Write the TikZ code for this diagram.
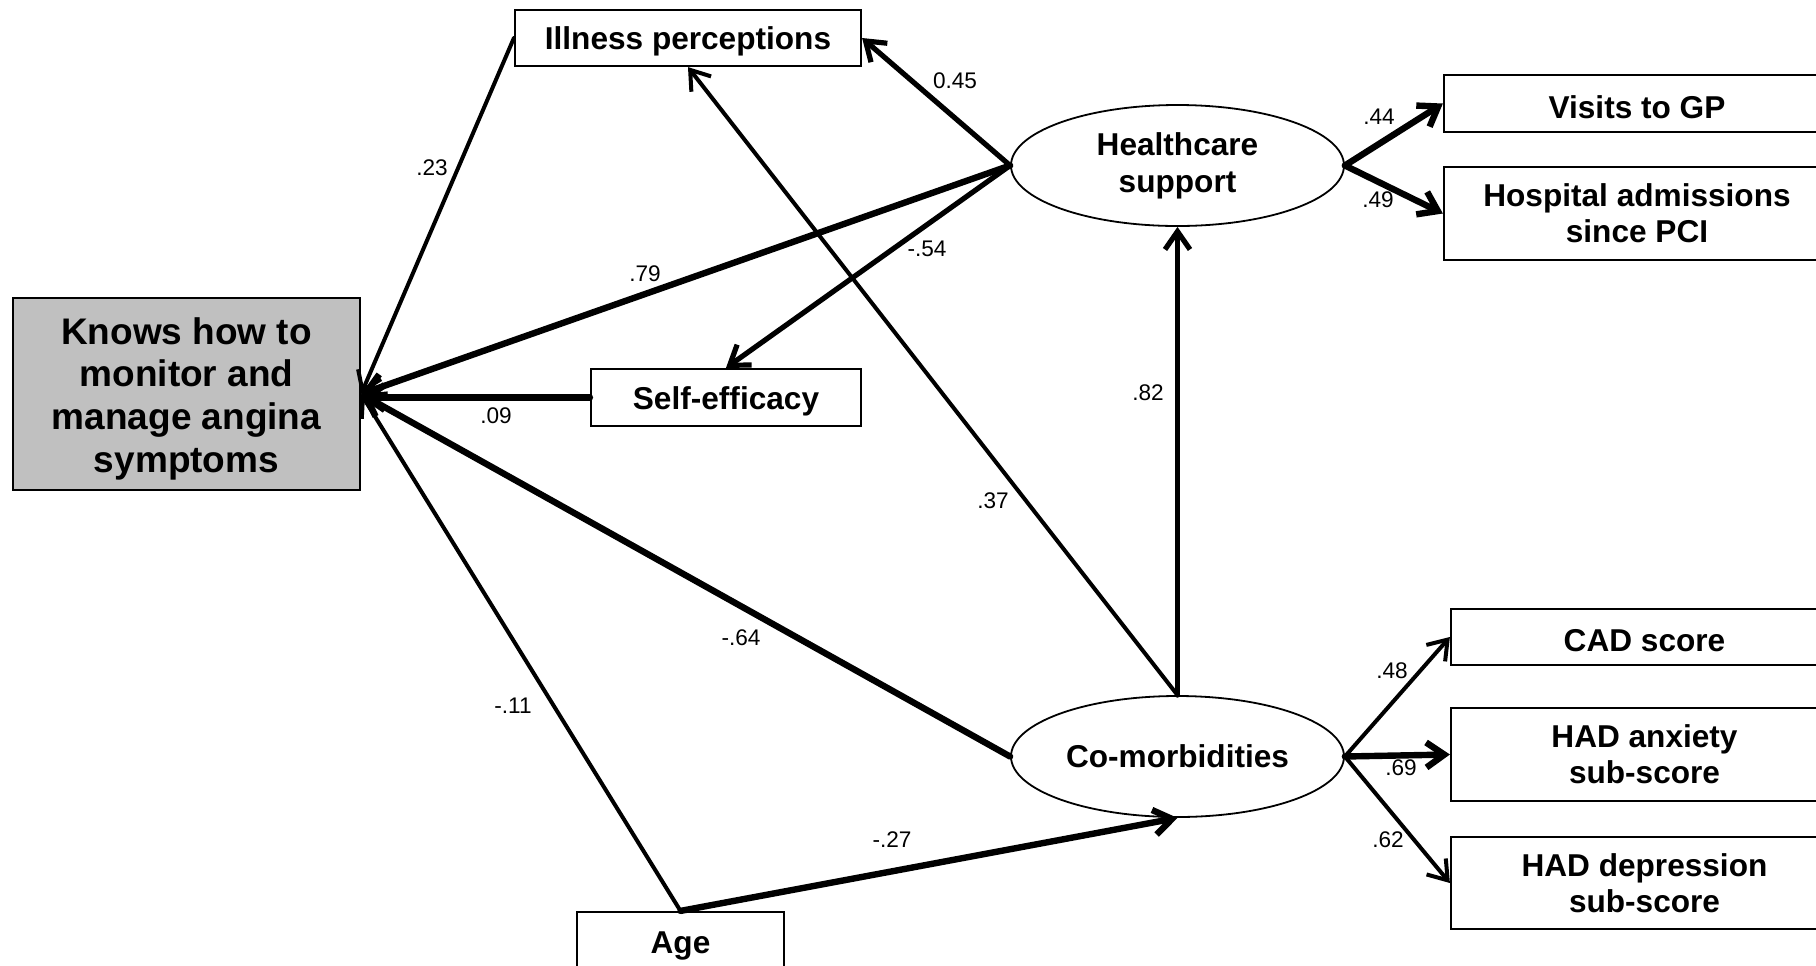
\documentclass[tikz,border=0pt]{standalone}
\usepackage{fontspec}
\setmainfont{Liberation Sans}
\usetikzlibrary{shapes.geometric,arrows.meta}
\definecolor{boxgray}{HTML}{C0C0C0}
\begin{document}
\begin{tikzpicture}[x=0.5pt,y=-0.5pt,
  varbox/.style={draw,line width=1.1pt,inner sep=0pt,align=center,
    font=\fontsize{15.8}{18}\selectfont\bfseries,
    execute at begin node={\rule{0pt}{0.95em}}},
  latent/.style={draw,ellipse,line width=0.9pt,inner sep=0pt,align=center,
    minimum width=166.5pt,minimum height=60.5pt,
    font=\fontsize{15.8}{18.5}\selectfont\bfseries},
  coef/.style={inner sep=0pt,font=\fontsize{11.3}{13}\selectfont},
  path/.style={-{Straight Barb[length=9pt,width=12.5pt]},line cap=round},
  thinp/.style={path,line width=2.0pt},
  midp/.style={path,line width=2.6pt},
  thickp/.style={path,line width=3.2pt}]
\useasboundingbox (0,0) rectangle (1816,965);

% observed variables
\node[varbox,minimum width=173pt,minimum height=28pt] (ill) at (688,38) {Illness perceptions};
\node[varbox,fill=boxgray,minimum width=173.5pt,minimum height=96pt,
  font=\fontsize{18.5}{21.3}\selectfont\bfseries] (knows) at (186.5,394)
  {\rule{0pt}{18pt}Knows how to\\monitor and\\manage angina\\symptoms};
\node[varbox,minimum width=135pt,minimum height=28.5pt] (self) at (726,397.5) {Self-efficacy};
\node[varbox,minimum width=103.5pt,minimum height=30pt] (age) at (680.5,942) {Age};

% latent variables
\node[latent] (hc) at (1177.5,165.5) {Healthcare\\support};
\node[latent] (cm) at (1177.5,756.5) {Co-morbidities};

% indicators
\node[varbox,minimum width=193pt,minimum height=28.5pt] (visits) at (1637,103.5) {Visits to GP};
\node[varbox,minimum width=193pt,minimum height=46.5pt] (hosp) at (1637,213.5) {Hospital admissions\\since PCI};
\node[varbox,minimum width=193.5pt,minimum height=28pt] (cad) at (1644.5,637) {CAD score};
\node[varbox,minimum width=193.5pt,minimum height=46.5pt] (anx) at (1644.5,754.5) {HAD anxiety\\sub-score};
\node[varbox,minimum width=193.5pt,minimum height=46pt] (dep) at (1644.5,883) {HAD depression\\sub-score};

% structural paths
\draw[thinp] (ill.west) -- (knows.east);
\draw[midp] (hc.west) -- (ill.east);
\draw[thickp] (hc.west) -- (knows.east);
\draw[midp] (hc.west) -- (self.north);
\draw[thickp] (self.west) -- (self.west -| knows.east);
\draw[thinp] (cm.north) -- (ill.south);
\draw[midp] (cm.north) -- (hc.south);
\draw[thickp] (cm.west) -- (knows.east);
\draw[thinp] (age.north) -- (knows.east);
\draw[thickp] (age.north) -- (cm.south);

% measurement paths
\draw[thickp] (hc.east) -- (visits.west);
\draw[thickp] (hc.east) -- (hosp.west);
\draw[thinp] (cm.east) -- (cad.west);
\draw[thickp] (cm.east) -- (anx.west);
\draw[thinp] (cm.east) -- (dep.west);

% coefficients
\node[coef] (c23) at (432,168) {.23};
\node[coef] (c45) at (955,81) {0.45};
\node[coef] (c79) at (645,274) {.79};
\node[coef] (c54) at (927,249) {-.54};
\node[coef] (c09) at (496,416) {.09};
\node[coef] (c82) at (1148,393) {.82};
\node[coef] (c37) at (993,501) {.37};
\node[coef] (c64) at (741,638) {-.64};
\node[coef] (c11) at (513,706) {-.11};
\node[coef] (c27) at (892,840) {-.27};
\node[coef] (c44) at (1379,117) {.44};
\node[coef] (c49) at (1378,200) {.49};
\node[coef] (c48) at (1392,671) {.48};
\node[coef] (c69) at (1401,768) {.69};
\node[coef] (c62) at (1388,840) {.62};
\end{tikzpicture}
\end{document}
